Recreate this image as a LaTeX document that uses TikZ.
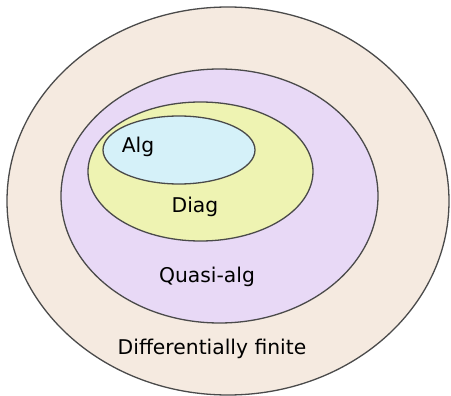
\documentclass[tikz,border=0pt]{standalone}
\usepackage{fontspec}
\setmainfont{DejaVu Sans}
\definecolor{cOuter}{HTML}{F5EAE0}
\definecolor{cPurple}{HTML}{E8D9F6}
\definecolor{cYellow}{HTML}{EEF3B2}
\definecolor{cBlue}{HTML}{D5F1F9}
\definecolor{cLine}{HTML}{4A4A4A}
\begin{document}
\begin{tikzpicture}[x=1pt,y=-1pt,
  setshape/.style={draw=cLine,line width=1.3pt},
  lbl/.style={font=\fontsize{20.3}{23}\selectfont,text=black,inner sep=0pt}]
\useasboundingbox (0,0) rectangle (451,396);
\path[setshape,fill=cOuter] (228,201) ellipse [x radius=221,y radius=194];
\path[setshape,fill=cPurple] (219.5,196) ellipse [x radius=158.5,y radius=127];
\path[setshape,fill=cYellow] (200.5,171.5) ellipse [x radius=112.5,y radius=69.5];
\path[setshape,fill=cBlue] (179,150) ellipse [x radius=76,y radius=34];
\node[lbl] (alg) at (138,147) {Alg};
\node[lbl] (diag) at (195,207) {Diag};
\node[lbl] (quasi) at (207,277) {Quasi-alg};
\node[lbl] (df) at (212,349) {Differentially finite};
\end{tikzpicture}
\end{document}
